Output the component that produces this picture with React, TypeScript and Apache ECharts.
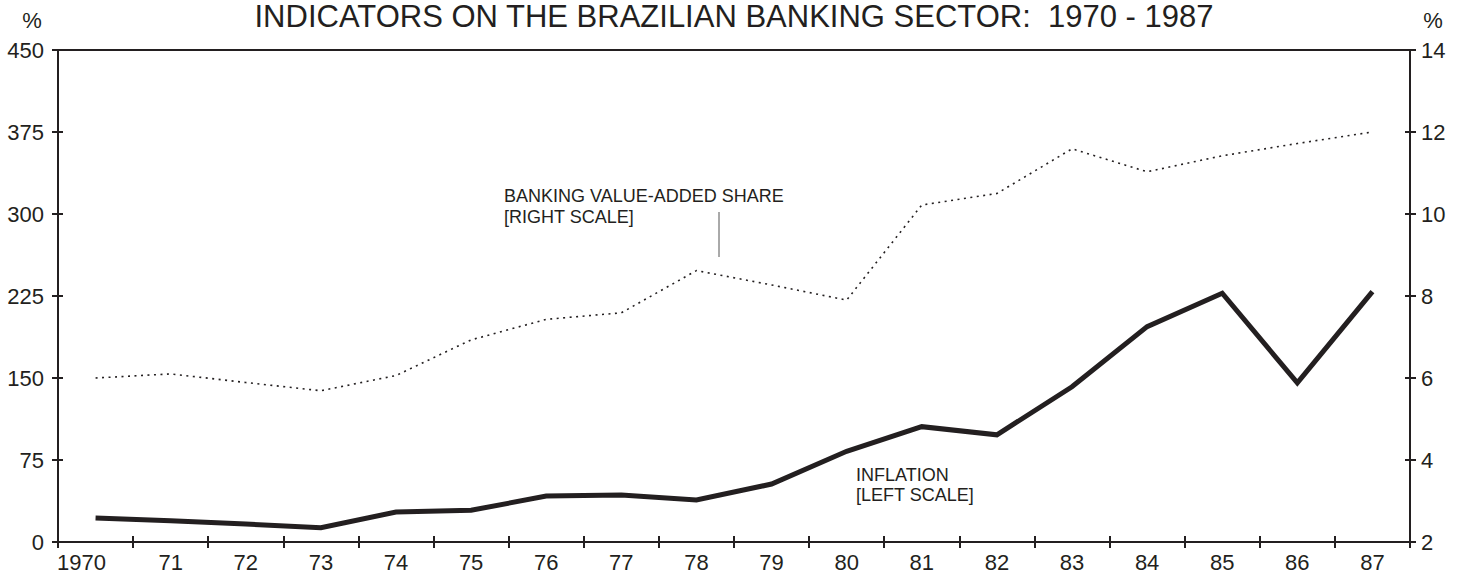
import React, { useEffect, useRef } from "react";
import * as echarts from "echarts";

const years = ["1970", "71", "72", "73", "74", "75", "76", "77", "78", "79", "80", "81", "82", "83", "84", "85", "86", "87"];
const inflation = [22, 19.5, 16.5, 13, 27.5, 29, 42, 43, 38.5, 53, 83, 105.5, 98, 142, 197, 227.5, 145.5, 229];
const bankingShare = [6.0, 6.1, 5.89, 5.69, 6.06, 6.93, 7.43, 7.59, 8.62, 8.27, 7.9, 10.22, 10.5, 11.59, 11.03, 11.42, 11.72, 12.0];

const INK = "#231f20";
const FONT = "Liberation Sans, Arial, Helvetica, sans-serif";

export default function App() {
  const ref = useRef<HTMLDivElement>(null);
  useEffect(() => {
    if (!ref.current) return;
    const chart = echarts.init(ref.current, null, { renderer: "svg" });
    const tickStyle = { color: INK, width: 2 };
    chart.setOption({
      animation: false,
      backgroundColor: "#ffffff",
      textStyle: { fontFamily: FONT, color: INK },
      grid: { left: 58, right: 56, top: 50, bottom: 31, show: true, borderColor: INK, borderWidth: 2, backgroundColor: "transparent" },
      xAxis: [
        {
          type: "category",
          data: years,
          position: "bottom",
          boundaryGap: true,
          axisLine: { show: true, lineStyle: { color: INK, width: 2 } },
          axisTick: { show: true, interval: 0, length: 6, lineStyle: tickStyle },
          axisLabel: {
            interval: 0,
            color: INK,
            fontSize: 22,
            fontFamily: FONT,
            margin: 9,
            formatter: (v: string, i: number) => (i === 0 ? "{a|" + v + "}" : v),
            rich: { a: { fontSize: 22, fontFamily: FONT, color: INK, padding: [0, 28, 0, 0] } },
          },
          splitLine: { show: false },
        },
        {
          type: "category",
          data: years,
          position: "bottom",
          boundaryGap: true,
          axisLine: { show: false },
          axisTick: { show: true, interval: 0, inside: true, length: 6, lineStyle: tickStyle },
          axisLabel: { show: false, interval: 0 },
          splitLine: { show: false },
        },
      ],
      yAxis: [
        {
          type: "value",
          position: "left",
          min: 0,
          max: 450,
          interval: 75,
          axisLine: { show: true, lineStyle: { color: INK, width: 2 } },
          axisTick: { show: true, length: 6, lineStyle: tickStyle },
          axisLabel: { color: INK, fontSize: 22, fontFamily: FONT, margin: 14 },
          splitLine: { show: false },
        },
        {
          type: "value",
          position: "right",
          min: 2,
          max: 14,
          interval: 2,
          axisLine: { show: true, lineStyle: { color: INK, width: 2 } },
          axisTick: { show: true, length: 6, lineStyle: tickStyle },
          axisLabel: { color: INK, fontSize: 22, fontFamily: FONT, margin: 11 },
          splitLine: { show: false },
        },
        {
          type: "value",
          position: "left",
          min: 0,
          max: 450,
          interval: 75,
          axisLine: { show: false },
          axisTick: { show: true, inside: true, length: 5, lineStyle: tickStyle },
          axisLabel: { show: false },
          splitLine: { show: false },
        },
        {
          type: "value",
          position: "right",
          min: 2,
          max: 14,
          interval: 2,
          axisLine: { show: false },
          axisTick: { show: true, inside: true, length: 5, lineStyle: tickStyle },
          axisLabel: { show: false },
          splitLine: { show: false },
        },
      ],
      series: [
        {
          name: "Banking value-added share",
          type: "line",
          xAxisIndex: 0,
          yAxisIndex: 1,
          data: bankingShare,
          symbol: "none",
          lineStyle: { color: INK, width: 1.6, type: [2, 4.5] },
          z: 3,
        },
        {
          name: "Inflation",
          type: "line",
          xAxisIndex: 0,
          yAxisIndex: 0,
          data: inflation,
          symbol: "none",
          lineStyle: { color: INK, width: 5, join: "miter" },
          z: 4,
        },
      ],
      graphic: [
        {
          type: "text",
          x: 734,
          y: 16,
          style: { text: "INDICATORS ON THE BRAZILIAN BANKING SECTOR:  1970 - 1987", fill: INK, font: "31px " + FONT, align: "center", verticalAlign: "middle" },
        },
        { type: "text", x: 32, y: 20, style: { text: "%", fill: INK, font: "22px " + FONT, align: "center", verticalAlign: "middle" } },
        { type: "text", x: 1433, y: 20, style: { text: "%", fill: INK, font: "22px " + FONT, align: "center", verticalAlign: "middle" } },
        { type: "text", x: 504, y: 196.4, style: { text: "BANKING VALUE-ADDED SHARE", fill: INK, font: "18px " + FONT, align: "left", verticalAlign: "middle" } },
        { type: "text", x: 504, y: 216.7, style: { text: "[RIGHT SCALE]", fill: INK, font: "18px " + FONT, align: "left", verticalAlign: "middle" } },
        { type: "line", shape: { x1: 719, y1: 212, x2: 719, y2: 257 }, style: { stroke: "#555555", lineWidth: 1 } },
        { type: "text", x: 856, y: 475.4, style: { text: "INFLATION", fill: INK, font: "18px " + FONT, align: "left", verticalAlign: "middle" } },
        { type: "text", x: 856, y: 495.4, style: { text: "[LEFT SCALE]", fill: INK, font: "18px " + FONT, align: "left", verticalAlign: "middle" } },
      ],
    });
    return () => chart.dispose();
  }, []);
  return <div ref={ref} style={{ width: 1466, height: 573, position: "absolute", left: 0, top: 0 }} />;
}
